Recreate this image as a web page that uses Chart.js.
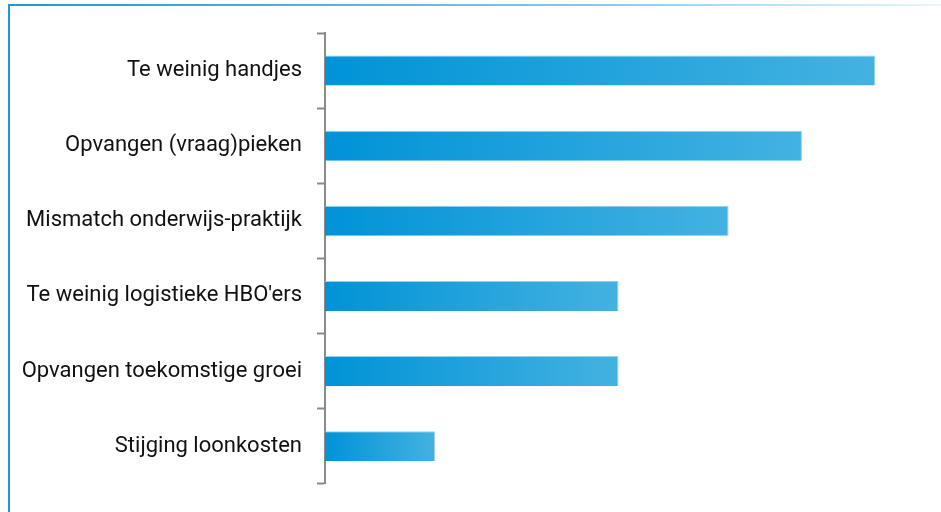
<!DOCTYPE html>
<html>
<head>
<meta charset="utf-8">
<script src="https://cdn.jsdelivr.net/npm/chart.js@4"></script>
<style>
  html, body { margin: 0; padding: 0; background: #fff; }
  #wrap { position: relative; width: 941px; height: 512px; overflow: hidden; }
  #frameLeft { position: absolute; left: 8px; top: 4px; width: 2px; height: 508px; background: #1a9ad6; }
  #frameTop { position: absolute; left: 8px; top: 4px; width: 933px; height: 2px;
    background: linear-gradient(to right, #1a9ad6 0%, #7cc8ec 60%, rgba(200,232,248,0.4) 100%); }
  canvas { position: absolute; left: 0; top: 0; }
</style>
</head>
<body>
<div id="wrap">
  <div id="frameLeft"></div>
  <div id="frameTop"></div>
  <canvas id="barChart" width="941" height="512"></canvas>
</div>
<script>
const categories = [
  "Te weinig handjes",
  "Opvangen (vraag)pieken",
  "Mismatch onderwijs-praktijk",
  "Te weinig logistieke HBO'ers",
  "Opvangen toekomstige groei",
  "Stijging loonkosten"
];
const counts = [15, 13, 11, 8, 8, 3];

// each bar gets its own left-to-right gradient
function barGradient(context) {
  const chart = context.chart;
  const area = chart.chartArea;
  if (!area) return "#0f9ad9";
  const x = chart.scales.x;
  const x0 = x.getPixelForValue(0);
  const x1 = x.getPixelForValue(context.raw);
  const g = chart.ctx.createLinearGradient(x0, 0, x1, 0);
  g.addColorStop(0, "#0093d7");
  g.addColorStop(1, "#44b2e1");
  return g;
}

const ctx = document.getElementById("barChart").getContext("2d");
const barChart = new Chart(ctx, {
  type: "bar",
  data: {
    labels: categories,
    datasets: [
      {
        data: counts,
        backgroundColor: barGradient,
        borderColor: "rgba(140,205,235,0.9)",
        borderWidth: { top: 1, right: 1, bottom: 0, left: 0 },
        borderSkipped: false,
        barPercentage: 0.4,
        categoryPercentage: 1,
      },
    ],
  },
  options: {
    indexAxis: "y",
    responsive: false,
    animation: false,
    layout: { padding: { top: 33, bottom: 25, right: 29, left: 0 } },
    plugins: { legend: { display: false }, tooltip: { enabled: false } },
    scales: {
      x: { display: false, min: 0, max: 16 },
      y: {
        afterFit: (axis) => { axis.width = 325; },
        border: { display: true, color: "#8a8a8a", width: 2 },
        grid: {
          offset: true,
          drawOnChartArea: false,
          tickLength: 8,
          tickWidth: 2,
          tickColor: "#8a8a8a",
        },
        ticks: {
          padding: 15,
          color: "#111",
          font: { family: "'Roboto', sans-serif", size: 22 },
        },
      },
    },
  },
});
</script>
</body>
</html>
